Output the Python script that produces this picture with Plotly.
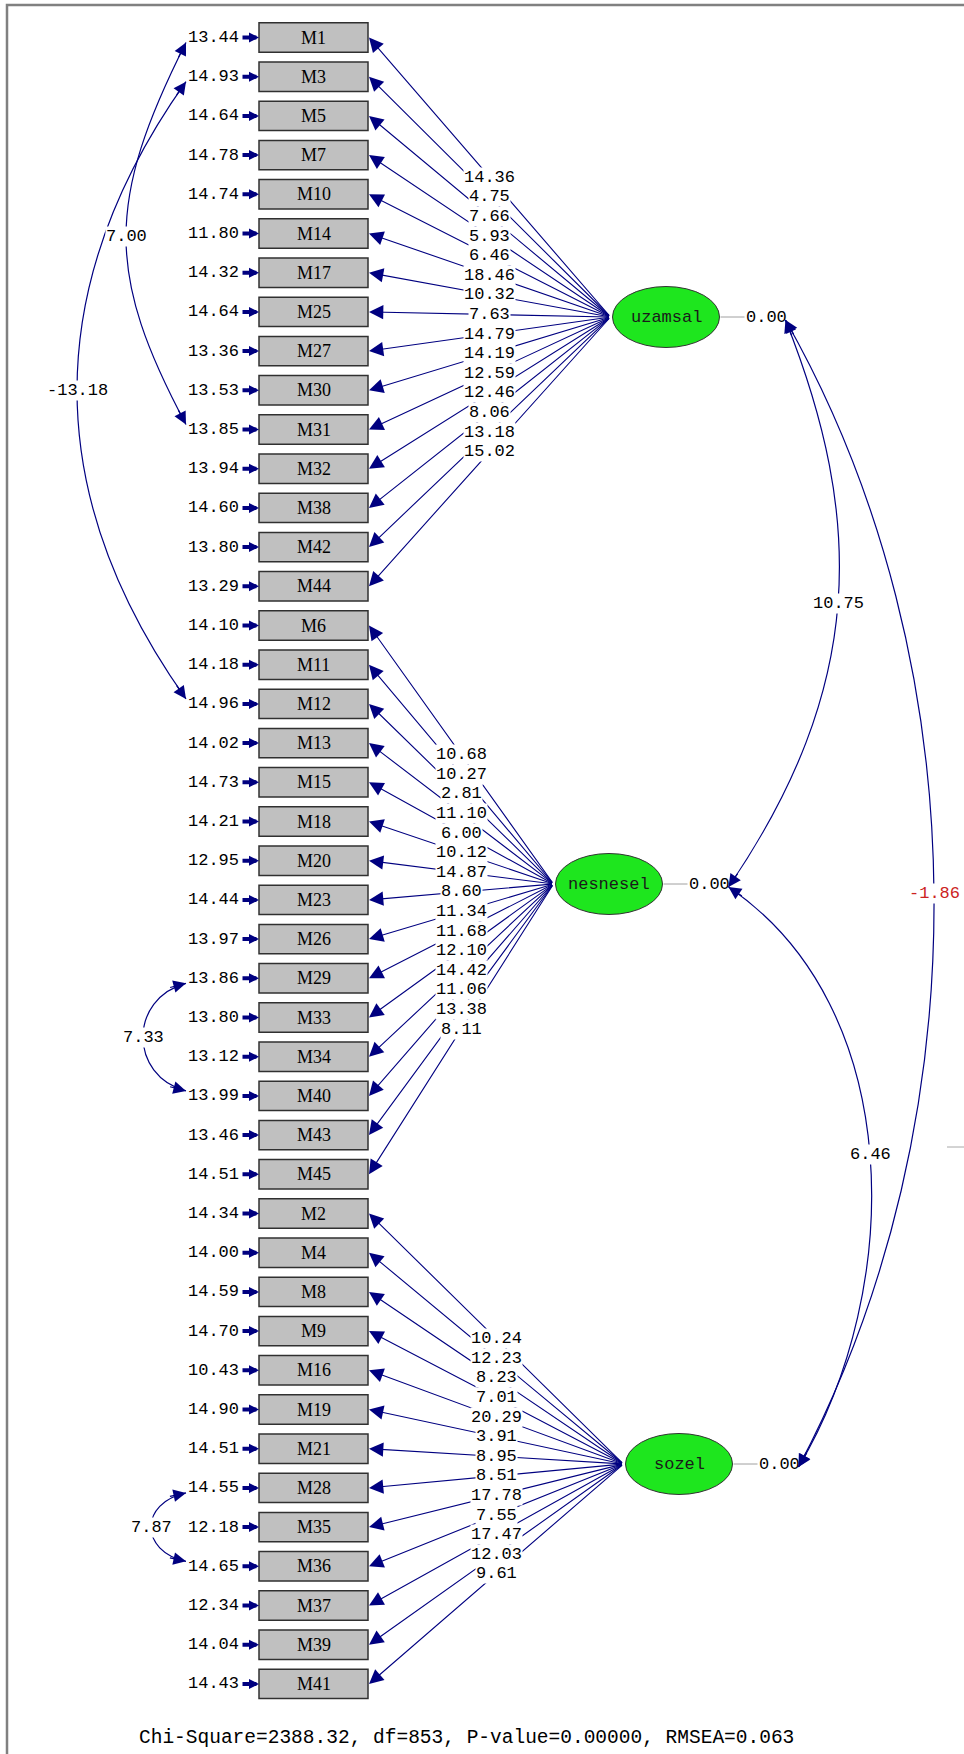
import plotly.graph_objects as go

# ---------------- model estimates ----------------
factors = ["uzamsal", "nesnesel", "sozel"]

uzamsal_items = ["M1", "M3", "M5", "M7", "M10", "M14", "M17", "M25", "M27", "M30",
                 "M31", "M32", "M38", "M42", "M44"]
nesnesel_items = ["M6", "M11", "M12", "M13", "M15", "M18", "M20", "M23", "M26", "M29",
                  "M33", "M34", "M40", "M43", "M45"]
sozel_items = ["M2", "M4", "M8", "M9", "M16", "M19", "M21", "M28", "M35", "M36",
               "M37", "M39", "M41"]

uzamsal_loadings = [14.36, 4.75, 7.66, 5.93, 6.46, 18.46, 10.32, 7.63, 14.79, 14.19,
                    12.59, 12.46, 8.06, 13.18, 15.02]
nesnesel_loadings = [10.68, 10.27, 2.81, 11.10, 6.00, 10.12, 14.87, 8.60, 11.34, 11.68,
                     12.10, 14.42, 11.06, 13.38, 8.11]
sozel_loadings = [10.24, 12.23, 8.23, 7.01, 20.29, 3.91, 8.95, 8.51, 17.78, 7.55,
                  17.47, 12.03, 9.61]

uzamsal_errors = [13.44, 14.93, 14.64, 14.78, 14.74, 11.80, 14.32, 14.64, 13.36, 13.53,
                  13.85, 13.94, 14.60, 13.80, 13.29]
nesnesel_errors = [14.10, 14.18, 14.96, 14.02, 14.73, 14.21, 12.95, 14.44, 13.97, 13.86,
                   13.80, 13.12, 13.99, 13.46, 14.51]
sozel_errors = [14.34, 14.00, 14.59, 14.70, 10.43, 14.90, 14.51, 14.55, 12.18, 14.65,
                12.34, 14.04, 14.43]

factor_variances = [0.00, 0.00, 0.00]

factor_cov_pairs = [("uzamsal", "nesnesel"), ("nesnesel", "sozel"), ("uzamsal", "sozel")]
factor_cov_values = [10.75, 6.46, -1.86]

error_cov_pairs = [("M1", "M31"), ("M3", "M12"), ("M29", "M40"), ("M28", "M36")]
error_cov_values = [7.00, -13.18, 7.33, 7.87]

chi_square, dof, p_value, rmsea = 2388.32, 853, 0.00000, 0.063

# ---------------- drawing geometry ----------------
W, H = 964, 1754
NAVY = "#000080"
RED = "#cc2222"
MONO = "Liberation Mono, Courier New, monospace"
SERIF = "Liberation Serif, Times New Roman, serif"

ROW_TOP, ROW_STEP = 37.5, 39.2
BOX_X0, BOX_X1, BOX_HALF_H = 259, 368, 14.7
ERR_RIGHT = 240
LATENT_CENTER = {"uzamsal": (666, 317), "nesnesel": (609, 884), "sozel": (679, 1464)}
ELL_RX, ELL_RY = 53.5, 30.5
VAR_GAP = 47          # distance from ellipse edge to its variance label centre

# curve shapes: (extreme x reached at mid-curve, start handle, end handle)
FACTOR_CURVE = {("uzamsal", "nesnesel"): (838, 200, 200),
                ("nesnesel", "sozel"): (870, 120, 180),
                ("uzamsal", "sozel"): (934, 345, 345)}
ERROR_CURVE = {("M1", "M31"): (126, 159, 150),
               ("M3", "M12"): (77, 205, 205),
               ("M29", "M40"): (143, 15, 15),
               ("M28", "M36"): (151, 10, 10)}

item_groups = {"uzamsal": (uzamsal_items, uzamsal_loadings, uzamsal_errors),
               "nesnesel": (nesnesel_items, nesnesel_loadings, nesnesel_errors),
               "sozel": (sozel_items, sozel_loadings, sozel_errors)}

shapes = []
arrow_layer, label_layer, head_layer = [], [], []


def fmt(v):
    return f"{v:.2f}"


def value_color(v):
    # values below the 1.96 threshold are flagged in red
    return RED if abs(v) < 1.96 else "black"


def text_ann(x, y, text, size=17, family=MONO, color="black", bg=None, xanchor="center"):
    d = dict(x=x, y=y, xref="x", yref="y", text=text, showarrow=False,
             font=dict(family=family, size=size, color=color),
             xanchor=xanchor, yanchor="middle", borderpad=0)
    if bg:
        d["bgcolor"] = bg
    return d


def arrow_ann(tip, tail, width=1.0, size=1.7, head=2, color=NAVY):
    return dict(x=tip[0], y=tip[1], ax=tail[0], ay=tail[1], xref="x", yref="y",
                axref="x", ayref="y", text="", showarrow=True, arrowhead=head,
                arrowsize=size, arrowwidth=width, arrowcolor=color)


def bezier(p0, p1, p2, p3, t):
    m = 1 - t
    return tuple(m ** 3 * a + 3 * m * m * t * b + 3 * m * t * t * c + t ** 3 * d
                 for a, b, c, d in zip(p0, p1, p2, p3))


def unit_towards(p, q, length):
    dx, dy = q[0] - p[0], q[1] - p[1]
    n = (dx * dx + dy * dy) ** 0.5
    return (p[0] + dx / n * length, p[1] + dy / n * length)


def two_headed_curve(p0, p3, bulge, k0, k1, value):
    c = (8 * bulge - p0[0] - p3[0]) / 6
    p1 = (c, p0[1] + k0)
    p2 = (c, p3[1] - k1)
    shapes.append(dict(type="path", xref="x", yref="y",
                       path=f"M {p0[0]},{p0[1]} C {p1[0]},{p1[1]} {p2[0]},{p2[1]} {p3[0]},{p3[1]}",
                       line=dict(color=NAVY, width=1.2)))
    head_layer.append(arrow_ann(p0, unit_towards(p0, p1, 18), width=1.2, size=2.1))
    head_layer.append(arrow_ann(p3, unit_towards(p3, p2, 18), width=1.2, size=2.1))
    mx, my = bezier(p0, p1, p2, p3, 0.5)
    label_layer.append(text_ann(mx, my, fmt(value), color=value_color(value), bg="white"))


# outer frame
shapes.append(dict(type="rect", xref="x", yref="y", x0=7, y0=5, x1=W + 20, y1=H + 20,
                   line=dict(color="#808080", width=2.5), fillcolor="rgba(0,0,0,0)"))

row_of = {}
row = 0
for f in factors:
    items, loads, errs = item_groups[f]
    cx, cy = LATENT_CENTER[f]
    apex = (cx - ELL_RX - 2, cy)
    for name, lam, err in zip(items, loads, errs):
        y = ROW_TOP + row * ROW_STEP
        row_of[name] = y
        row += 1
        # observed variable box
        shapes.append(dict(type="rect", xref="x", yref="y", x0=BOX_X0, x1=BOX_X1,
                           y0=y - BOX_HALF_H, y1=y + BOX_HALF_H,
                           fillcolor="#c0c0c0", line=dict(color="#303030", width=1.5)))
        label_layer.append(text_ann((BOX_X0 + BOX_X1) / 2, y, name, size=18, family=SERIF))
        # error variance
        label_layer.append(text_ann(ERR_RIGHT, y, fmt(err), xanchor="right", color=value_color(err)))
        head_layer.append(arrow_ann((BOX_X0, y), (ERR_RIGHT + 1, y), width=4, size=0.5, head=2))
        # loading path
        tip = (BOX_X1 + 1, y)
        arrow_layer.append(arrow_ann(tip, apex, width=1.1, size=2.6, head=2))
        mx, my = (tip[0] + apex[0]) / 2, (tip[1] + apex[1]) / 2
        label_layer.append(text_ann(mx, my, fmt(lam), color=value_color(lam), bg="white"))

# latent variables
var_tip = {}
for f, v in zip(factors, factor_variances):
    cx, cy = LATENT_CENTER[f]
    shapes.append(dict(type="circle", xref="x", yref="y", x0=cx - ELL_RX, x1=cx + ELL_RX,
                       y0=cy - ELL_RY, y1=cy + ELL_RY, fillcolor="#1ee61e",
                       line=dict(color="#333333", width=1)))
    label_layer.append(text_ann(cx, cy, f, color="#1a1a1a"))
    tx = cx + ELL_RX + VAR_GAP
    shapes.append(dict(type="line", xref="x", yref="y", x0=cx + ELL_RX + 1, x1=tx - 22,
                       y0=cy, y1=cy, line=dict(color="#a0a0a0", width=1)))
    label_layer.append(text_ann(tx, cy, fmt(v), color=value_color(v) if v else "black"))
    var_tip[f] = (tx + 19, cy + 3)

# factor covariances (right side)
for (a, b), v in zip(factor_cov_pairs, factor_cov_values):
    bulge, k0, k1 = FACTOR_CURVE[(a, b)]
    two_headed_curve(var_tip[a], var_tip[b], bulge, k0, k1, v)

# error covariances (left side)
for (a, b), v in zip(error_cov_pairs, error_cov_values):
    bulge, k0, k1 = ERROR_CURVE[(a, b)]
    p0 = (ERR_RIGHT - 54, row_of[a] + 5)
    p3 = (ERR_RIGHT - 54, row_of[b] - 5)
    two_headed_curve(p0, p3, bulge, k0, k1, v)

# short grey stub at the right margin
shapes.append(dict(type="line", xref="x", yref="y", x0=947, x1=W + 5, y0=1147, y1=1147,
                   line=dict(color="#a8a8a8", width=1)))

fit_text = (f"Chi-Square={chi_square:.2f}, df={dof}, P-value={p_value:.5f}, "
            f"RMSEA={rmsea:.3f}")
label_layer.append(text_ann(466, 1738, fit_text, size=19.5))

annotations = arrow_layer + label_layer + head_layer

fig = go.Figure(go.Scatter(x=[], y=[], hoverinfo="skip"))
fig.update_layout(
    width=W, height=H, margin=dict(l=0, r=0, t=0, b=0),
    paper_bgcolor="white", plot_bgcolor="white", showlegend=False,
    xaxis=dict(range=[0, W], visible=False, fixedrange=True),
    yaxis=dict(range=[H, 0], visible=False, fixedrange=True),
    shapes=shapes, annotations=annotations,
)
fig.write_html("out.html", config={"displayModeBar": False})
